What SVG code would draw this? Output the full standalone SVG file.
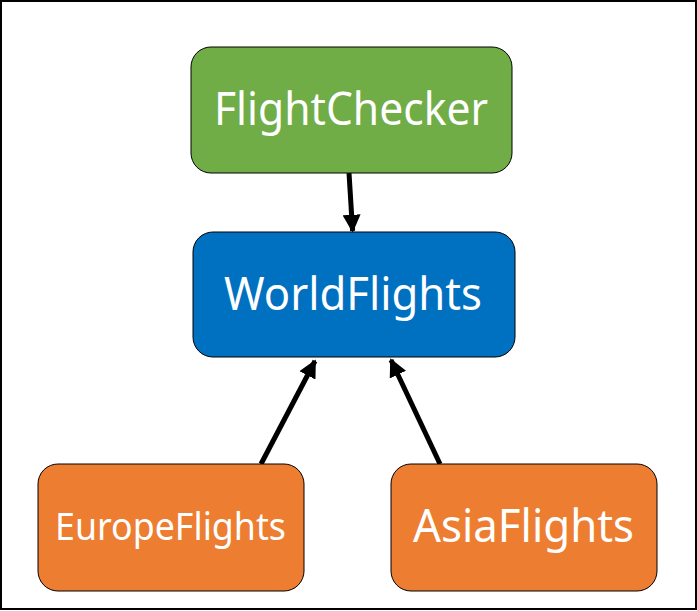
<svg xmlns="http://www.w3.org/2000/svg" width="697" height="611" viewBox="0 0 697 611">
<defs>
<style>
.node{stroke:#000;stroke-width:1}
.lbl{font-family:"Noto Sans","Open Sans",sans-serif;fill:#fff;text-anchor:middle}
.edge{stroke:#000;stroke-width:5;fill:none}
</style>
<marker id="ah" viewBox="0 0 10 10" refX="9" refY="5" markerWidth="3.6" markerHeight="3.6" orient="auto" markerUnits="strokeWidth">
<path d="M0,0 L10,5 L0,10 z" fill="#000"/>
</marker>
</defs>
<rect x="1" y="1" width="695" height="608" fill="#fff" stroke="#000" stroke-width="2"/>
<g id="connectors">
<line class="edge" x1="349" y1="173" x2="352.6" y2="231" marker-end="url(#ah)"/>
<line class="edge" x1="261" y1="464" x2="315" y2="361" marker-end="url(#ah)"/>
<line class="edge" x1="440" y1="464" x2="391" y2="360" marker-end="url(#ah)"/>
</g>
<g id="FlightChecker">
<rect class="node" x="191" y="47" width="321" height="126" rx="20" fill="#70AD47"/>
<text class="lbl" x="351" y="125" font-size="46" textLength="274" lengthAdjust="spacingAndGlyphs">FlightChecker</text>
</g>
<g id="WorldFlights">
<rect class="node" x="193" y="232" width="322" height="125" rx="20" fill="#0070C0"/>
<text class="lbl" x="353" y="310" font-size="46" textLength="258" lengthAdjust="spacingAndGlyphs">WorldFlights</text>
</g>
<g id="EuropeFlights">
<rect class="node" x="38" y="464" width="266" height="127" rx="20" fill="#ED7D31"/>
<text class="lbl" x="170.5" y="540" font-size="39" textLength="231" lengthAdjust="spacingAndGlyphs">EuropeFlights</text>
</g>
<g id="AsiaFlights">
<rect class="node" x="391" y="464" width="266" height="127" rx="20" fill="#ED7D31"/>
<text class="lbl" x="523.5" y="542" font-size="46" textLength="221" lengthAdjust="spacingAndGlyphs">AsiaFlights</text>
</g>
</svg>
